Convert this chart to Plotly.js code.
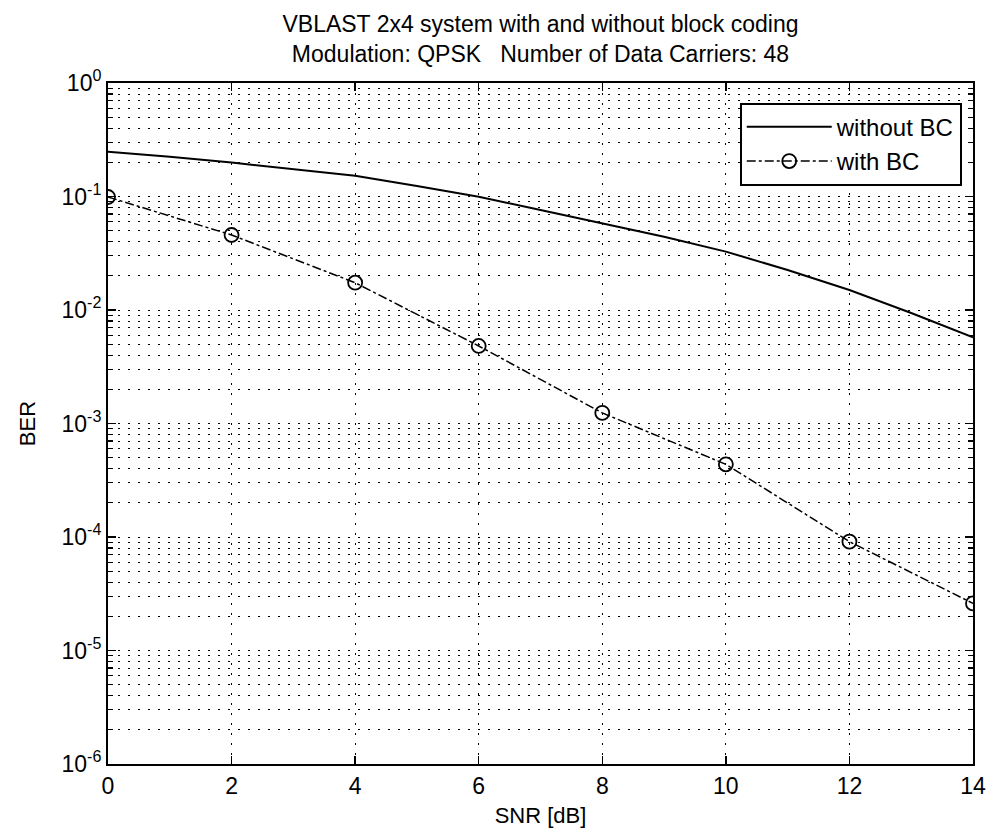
<!DOCTYPE html>
<html>
<head>
<meta charset="utf-8">
<script src="https://cdn.plot.ly/plotly-3.0.1.min.js"></script>
<style>html,body{margin:0;padding:0;background:#fff;}#chart{width:989px;height:838px;}</style>
</head>
<body>
<div id="chart"></div>
<script>
// SNR values (dB)
const snrLine = [0,1,2,3,4,5,6,7,8,9,10,11,12,13,14];
const berWithoutBC = [0.248,0.224,0.199,0.175,0.152,0.124,0.0996,0.076,0.058,0.0442,0.0327,0.0225,0.0150,0.0094,0.00575];
const snrMarked = [0,2,4,6,8,10,12,14];
const berWithBC = [0.099,0.0458,0.0174,0.00482,0.00124,0.000437,0.000091,0.000026];
const xTickVals = [0,2,4,6,8,10,12,14];
const decadeExps = [-6,-5,-4,-3,-2,-1,0];
const minorMultipliers = [2,3,4,5,6,7,8,9];

const yTickVals = decadeExps.map(e => Math.pow(10, e));
const yTickText = decadeExps.map(e => '10<sup>' + e + '</sup>');
const yMinorVals = [];
decadeExps.slice(0, -1).forEach(e => minorMultipliers.forEach(m => yMinorVals.push(m * Math.pow(10, e))));

const font = 'Liberation Sans, Arial, Helvetica, sans-serif';
const gridDash = '2px,8px';

const traces = [
  {
    x: snrLine, y: berWithoutBC, name: 'without BC', mode: 'lines',
    line: {color: '#000', width: 2}
  },
  {
    x: snrMarked, y: berWithBC, name: 'with BC', mode: 'lines+markers',
    line: {color: '#000', width: 1.5, dash: 'dashdot'},
    marker: {symbol: 'circle-open', size: 14, color: '#000', line: {width: 1.8, color: '#000'}}
  }
];

const layout = {
  width: 989, height: 838,
  paper_bgcolor: '#fff', plot_bgcolor: '#fff',
  margin: {l: 108, r: 16, t: 83, b: 74},
  font: {family: font, color: '#000', size: 20},
  title: {
    text: 'VBLAST 2x4 system with and without block coding<br>Modulation: QPSK   Number of Data Carriers: 48',
    font: {family: font, size: 23, color: '#000'},
    x: 0.5, xanchor: 'center', xref: 'paper', yref: 'container', y: 0.962, yanchor: 'middle'
  },
  xaxis: {
    range: [0, 14], tickmode: 'array', tickvals: xTickVals, ticktext: xTickVals.map(String),
    showgrid: true, gridcolor: '#000', griddash: gridDash, gridwidth: 1,
    showline: true, linecolor: '#000', linewidth: 2, mirror: 'ticks',
    ticks: 'inside', ticklen: 8, tickcolor: '#000', tickwidth: 1.5,
    zeroline: false,
    tickfont: {family: font, size: 23, color: '#000'},
    title: {text: 'SNR [dB]', font: {family: font, size: 22, color: '#000'}, standoff: 10}
  },
  yaxis: {
    type: 'log', range: [-6, 0], tickmode: 'array', tickvals: yTickVals, ticktext: yTickText,
    showgrid: true, gridcolor: '#000', griddash: gridDash, gridwidth: 1,
    showline: true, linecolor: '#000', linewidth: 2, mirror: 'ticks',
    ticks: 'inside', ticklen: 8, tickcolor: '#000', tickwidth: 1.5,
    minor: {
      tickmode: 'array', tickvals: yMinorVals,
      ticks: 'inside', ticklen: 5, tickcolor: '#000', tickwidth: 1.2,
      showgrid: true, gridcolor: '#000', griddash: gridDash, gridwidth: 1
    },
    zeroline: false,
    tickfont: {family: font, size: 23, color: '#000'},
    title: {text: 'BER', font: {family: font, size: 22, color: '#000'}, standoff: 20}
  },
  legend: {
    x: 0.987, xanchor: 'right', y: 0.971, yanchor: 'top',
    bgcolor: '#fff', bordercolor: '#000', borderwidth: 2,
    font: {family: font, size: 24, color: '#000'},
    itemwidth: 85, tracegroupgap: 0
  },
  showlegend: true
};

Plotly.newPlot('chart', traces, layout, {displayModeBar: false, staticPlot: true});
</script>
</body>
</html>
